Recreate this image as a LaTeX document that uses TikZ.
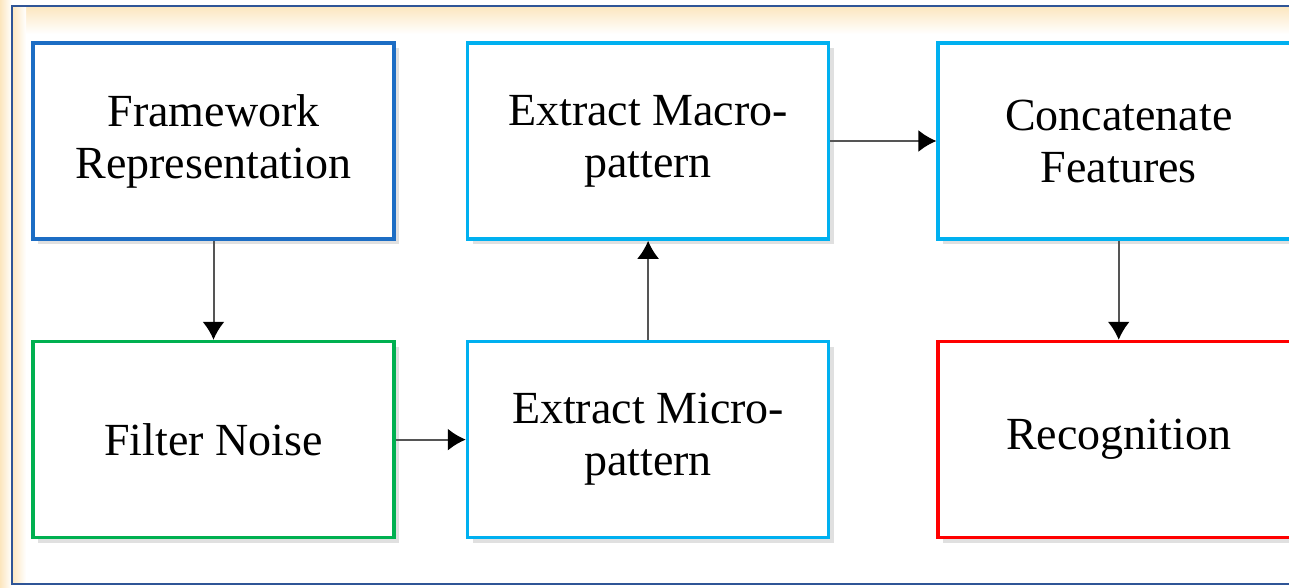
\documentclass[tikz,border=0pt]{standalone}
\usepackage{fontspec}
\setmainfont{Liberation Serif}
\usetikzlibrary{positioning,arrows.meta,shadows}
\definecolor{cA}{HTML}{1C6DC4}
\definecolor{cC}{HTML}{00B0F0}
\definecolor{cN}{HTML}{00B050}
\definecolor{cR}{HTML}{FF0000}
\definecolor{cF}{HTML}{2F5597}
\definecolor{cG}{HTML}{555555}
\definecolor{cY}{HTML}{FCE6BE}

\begin{document}
\begin{tikzpicture}[
  node distance=49.5pt and 35pt, font=\fontsize{23}{26}\selectfont,
  bx/.style={draw=cC,fill=white,line width=1.8pt,minimum width=180.5pt,minimum height=98pt,
    align=center,inner sep=0pt,
    drop shadow={shadow xshift=2.5pt,shadow yshift=-2.5pt,fill=black!12,opacity=1}},
  ar/.style={-{Latex[length=9pt,width=11pt,color=black]},cG,line width=1pt}]
\useasboundingbox (0,0) rectangle (644.5pt,-294pt);
\clip (0,0) rectangle (644.5pt,-294pt);
% frame with its soft warm rim
\shade[left color=cY,right color=white] (0,0) rectangle (6pt,-294pt);
\shade[top color=cY,bottom color=white] (6pt,-3pt) rectangle (660pt,-17pt);
\shade[left color=cY,right color=white] (6pt,-3pt) rectangle (13pt,-292pt);
\draw[cF,line width=1pt] (6pt,-3pt) rectangle (660pt,-292pt);
% pipeline
\node[bx,draw=cA] (fr) at (106.75pt,-70.5pt) {Framework\\Representation};
\node[bx,draw=cN,below=of fr] (fn) {Filter Noise};
\node[bx,right=of fn] (mi) {Extract Micro-\\pattern};
\node[bx,above=of mi] (ma) {Extract Macro-\\pattern};
\node[bx,right=53pt of ma] (cf) {Concatenate\\Features};
\node[bx,draw=cR,below=of cf] (rc) {Recognition};
\draw[ar](fr)--(fn); \draw[ar](fn)--(mi); \draw[ar](mi)--(ma);
\draw[ar](ma)--(cf); \draw[ar](cf)--(rc);
\end{tikzpicture}
\end{document}
